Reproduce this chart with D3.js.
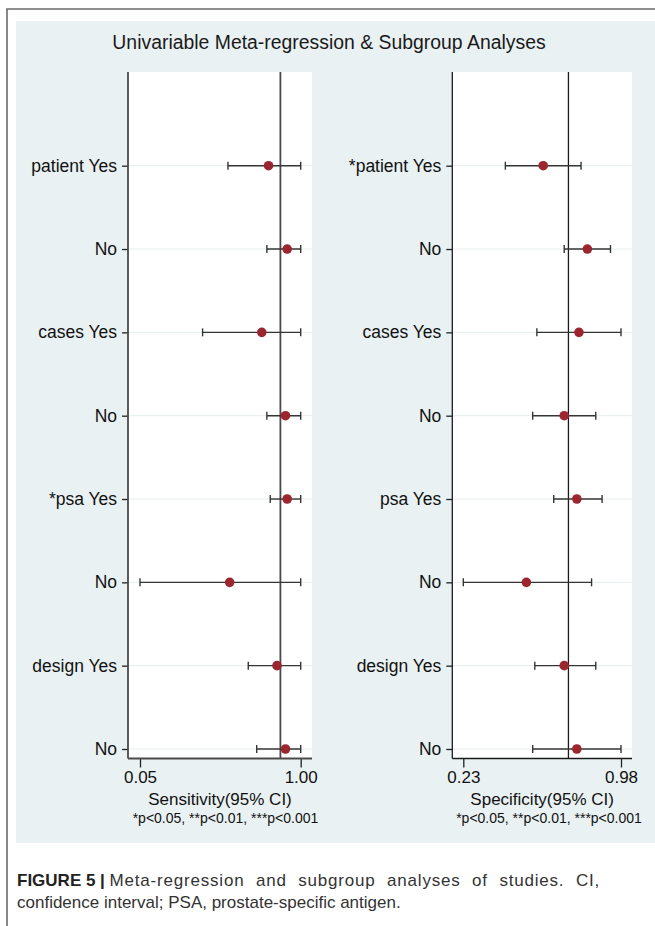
<!DOCTYPE html>
<html>
<head>
<meta charset="utf-8">
<script src="https://cdn.jsdelivr.net/npm/d3@7"></script>
<style>
  html, body { margin: 0; padding: 0; background: #ffffff; }
  svg { display: block; font-family: "Liberation Sans", Arial, sans-serif; }
</style>
</head>
<body>
<svg id="chart" width="655" height="926"></svg>
<script>
// Subgroup labels (one per row, top to bottom)
const sensLabels = ["patient Yes", "No", "cases Yes", "No", "*psa Yes", "No", "design Yes", "No"];
const specLabels = ["*patient Yes", "No", "cases Yes", "No", "psa Yes", "No", "design Yes", "No"];

// Sensitivity estimates with 95% CI
const sensEst = [0.81, 0.92, 0.77, 0.91, 0.92, 0.58, 0.86, 0.91];
const sensLo  = [0.57, 0.80, 0.42, 0.80, 0.82, 0.05, 0.69, 0.74];
const sensHi  = [1.00, 1.00, 1.00, 1.00, 1.00, 1.00, 1.00, 1.00];

// Specificity estimates with 95% CI
const specEst = [0.61, 0.82, 0.78, 0.71, 0.77, 0.53, 0.71, 0.77];
const specLo  = [0.43, 0.71, 0.58, 0.56, 0.66, 0.23, 0.57, 0.56];
const specHi  = [0.79, 0.93, 0.98, 0.86, 0.89, 0.84, 0.86, 0.98];

// Pooled (overall) estimates shown as reference lines
const sensPooled = 0.88;
const specPooled = 0.73;

// Axis tick values
const sensTicks = [0.05, 1.00];
const specTicks = [0.23, 0.98];

const titleText = "Univariable Meta-regression & Subgroup Analyses";
const footnoteText = "*p<0.05, **p<0.01, ***p<0.001";

const svg = d3.select("#chart");

// Outer frame and shaded graph region
svg.append("rect").attr("x", 16).attr("y", 21).attr("width", 639).attr("height", 822)
  .attr("fill", "#e9f1f3");
svg.append("path").attr("d", "M7,926 V9 H655")
  .attr("fill", "none").attr("stroke", "#6a6a6a").attr("stroke-width", 1.6);

svg.append("text").attr("x", 329).attr("y", 49).attr("text-anchor", "middle")
  .attr("font-size", 19.4).attr("fill", "#1a1a1a").text(titleText);

// Shared vertical layout
const plotTop = 72, plotBottom = 758.5;
const rows = d3.range(1, 9);
const y = d3.scaleLinear().domain([1, 8]).range([165.7, 749]);

function panel(opts) {
  const { left, right, tickLo, tickHi, ticks, labels, est, lo, hi, pooled,
          xTitle, footX, lineColor, lineWidth } = opts;
  const x = d3.scaleLinear().domain([ticks[0], ticks[1]]).range([tickLo, tickHi]);
  const g = svg.append("g");

  g.append("rect").attr("x", left).attr("y", plotTop)
    .attr("width", right - left).attr("height", plotBottom - plotTop).attr("fill", "#ffffff");

  // faint row gridlines
  g.selectAll("line.grid").data(rows).join("line").attr("class", "grid")
    .attr("x1", left).attr("x2", right)
    .attr("y1", d => y(d)).attr("y2", d => y(d))
    .attr("stroke", "#e6eef0").attr("stroke-width", 1);

  // reference line at pooled estimate
  g.append("line").attr("x1", x(pooled)).attr("x2", x(pooled))
    .attr("y1", plotTop).attr("y2", plotBottom)
    .attr("stroke", lineColor).attr("stroke-width", lineWidth);

  // confidence intervals
  const ci = g.selectAll("g.ci").data(rows).join("g").attr("class", "ci");
  ci.append("line")
    .attr("x1", d => x(lo[d - 1])).attr("x2", d => x(hi[d - 1]))
    .attr("y1", d => y(d)).attr("y2", d => y(d))
    .attr("stroke", "#353535").attr("stroke-width", 1.4);
  ci.append("line")
    .attr("x1", d => x(lo[d - 1])).attr("x2", d => x(lo[d - 1]))
    .attr("y1", d => y(d) - 4).attr("y2", d => y(d) + 4)
    .attr("stroke", "#353535").attr("stroke-width", 1.4);
  ci.append("line")
    .attr("x1", d => x(hi[d - 1])).attr("x2", d => x(hi[d - 1]))
    .attr("y1", d => y(d) - 4).attr("y2", d => y(d) + 4)
    .attr("stroke", "#353535").attr("stroke-width", 1.4);

  // point estimates
  g.selectAll("circle").data(rows).join("circle")
    .attr("cx", d => x(est[d - 1])).attr("cy", d => y(d)).attr("r", 4.8)
    .attr("fill", "#9b2630");

  // y axis
  const yAxis = g.append("g").attr("transform", `translate(${left},0)`)
    .call(d3.axisLeft(y).tickValues(rows).tickFormat(d => labels[d - 1])
      .tickSize(6).tickPadding(5));
  yAxis.select(".domain").remove();
  yAxis.selectAll(".tick line").attr("stroke", "#222").attr("stroke-width", 1.3);
  yAxis.selectAll(".tick text").attr("font-size", 17.5).attr("fill", "#111")
    .attr("font-family", "Liberation Sans, Arial, sans-serif");
  g.append("line").attr("x1", left).attr("x2", left).attr("y1", plotTop).attr("y2", plotBottom)
    .attr("stroke", lineColor).attr("stroke-width", lineWidth);

  // x axis
  const xAxis = g.append("g").attr("transform", `translate(0,${plotBottom})`)
    .call(d3.axisBottom(x).tickValues(ticks).tickFormat(d3.format(".2f"))
      .tickSize(9).tickPadding(3));
  xAxis.select(".domain").remove();
  xAxis.selectAll(".tick line").attr("stroke", "#222").attr("stroke-width", 1.3);
  xAxis.selectAll(".tick text").attr("font-size", 17).attr("fill", "#111")
    .attr("font-family", "Liberation Sans, Arial, sans-serif");
  g.append("line").attr("x1", left).attr("x2", right).attr("y1", plotBottom).attr("y2", plotBottom)
    .attr("stroke", lineColor).attr("stroke-width", lineWidth);

  g.append("text").attr("x", (left + right) / 2).attr("y", 805).attr("text-anchor", "middle")
    .attr("font-size", 17).attr("fill", "#111").text(xTitle);
  g.append("text").attr("x", footX).attr("y", 823).attr("text-anchor", "middle")
    .attr("font-size", 14).attr("fill", "#111").text(footnoteText);
}

panel({ left: 128, right: 312, tickLo: 140, tickHi: 300.7, ticks: sensTicks,
        labels: sensLabels, est: sensEst, lo: sensLo, hi: sensHi, pooled: sensPooled,
        xTitle: "Sensitivity(95% CI)", footX: 225.5, lineColor: "#4a4a4a", lineWidth: 1.8 });
panel({ left: 452.3, right: 632, tickLo: 463.3, tickHi: 621, ticks: specTicks,
        labels: specLabels, est: specEst, lo: specLo, hi: specHi, pooled: specPooled,
        xTitle: "Specificity(95% CI)", footX: 549, lineColor: "#1a1a1a", lineWidth: 1.3 });

// Figure caption (first line justified to the column width)
const cap = svg.append("g").attr("font-size", 17).attr("fill", "#333");
const line1 = cap.append("text").attr("x", 17).attr("y", 886);
line1.append("tspan").attr("font-weight", "bold").attr("fill", "#222").text("FIGURE 5 | ");
line1.append("tspan").attr("word-spacing", 6).attr("letter-spacing", 0.8)
  .text("Meta-regression and subgroup analyses of studies. CI,");
cap.append("text").attr("x", 17).attr("y", 908)
  .text("confidence interval; PSA, prostate-specific antigen.");
</script>
</body>
</html>
